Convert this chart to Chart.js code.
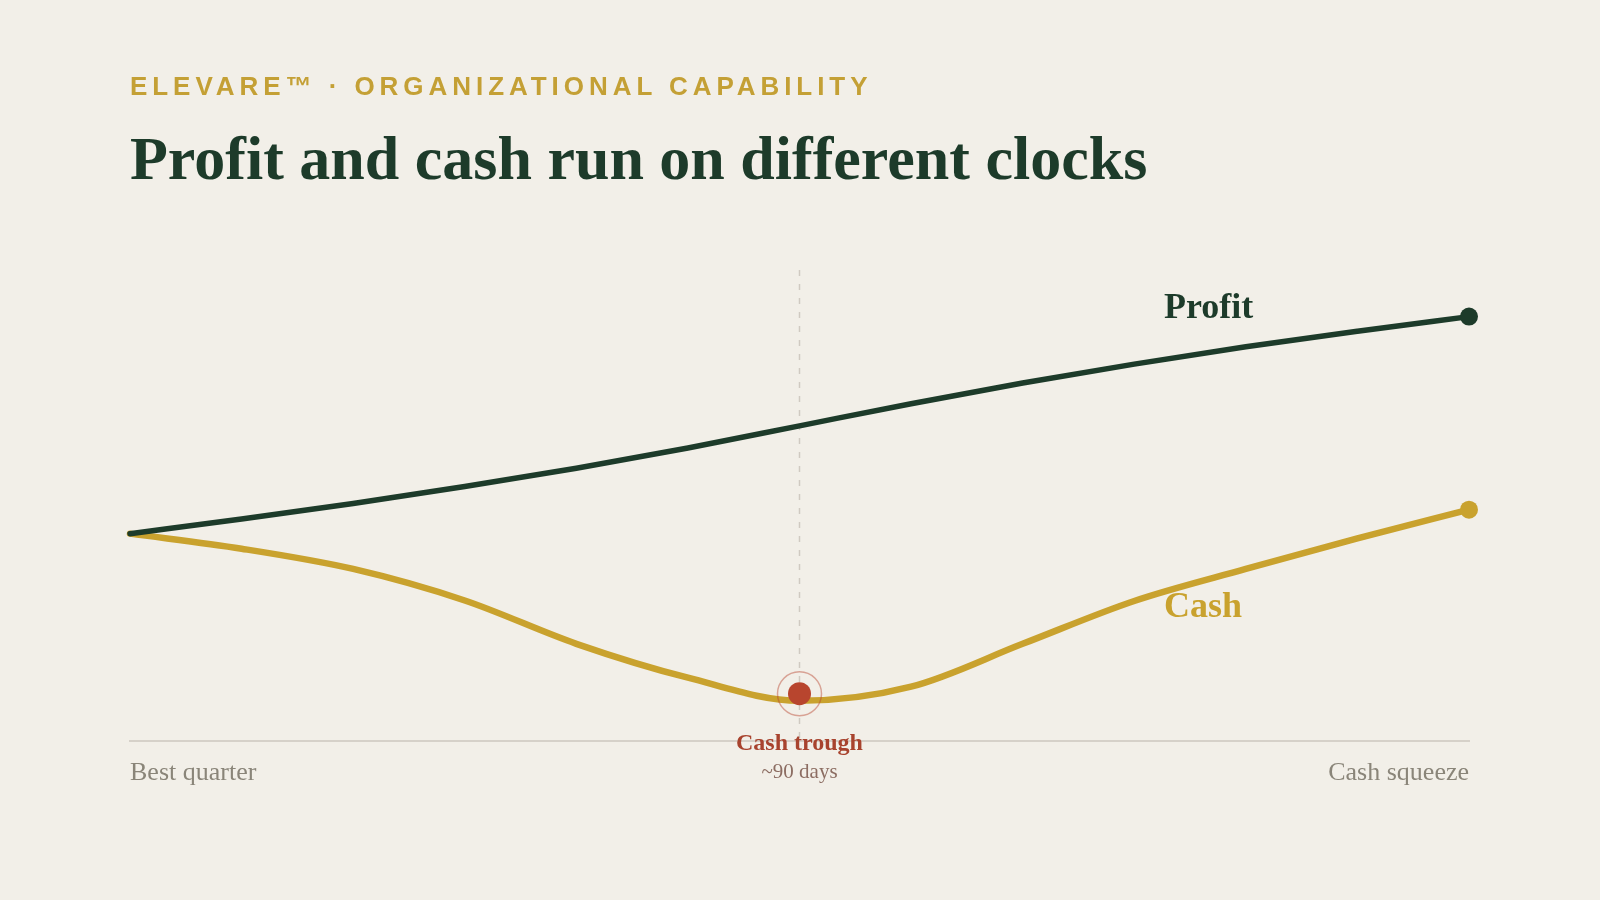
<!DOCTYPE html>
<html lang="en">
<head>
  <meta charset="UTF-8">
  <title>Profit and cash run on different clocks</title>
  <script src="https://cdn.jsdelivr.net/npm/chart.js"></script>
  <style>
    html, body { margin: 0; padding: 0; background: #F2EFE8; }
    .stage { position: relative; width: 1600px; height: 900px; overflow: hidden; }
    canvas { position: absolute; left: 0; top: 0; }
    .kicker {
      position: absolute; left: 130px; top: 71px; line-height: 1; white-space: nowrap;
      font: bold 26px 'Liberation Sans', Arial, sans-serif; letter-spacing: 4.95px; color: #C4A035;
    }
    .title {
      position: absolute; left: 130px; top: 123px; line-height: 1; white-space: nowrap;
      font: bold 62px 'Liberation Serif', 'Times New Roman', serif; color: #1D3B2A;
    }
  </style>
</head>
<body>
  <div class="stage">
    <canvas id="chart" width="1600" height="900"></canvas>
    <div class="kicker">ELEVARE™ · ORGANIZATIONAL CAPABILITY</div>
    <div class="title">Profit and cash run on different clocks</div>
  </div>
  <script>
    // days since the best quarter
    const days = [0, 15, 30, 45, 60, 75, 90, 105, 120, 135, 150, 165, 180]
    const profit = [44.0, 47.1, 50.4, 54.0, 57.9, 62.2, 66.9, 71.6, 76.0, 80.0, 83.7, 87.0, 90.1]
    const cash = [44.0, 40.8, 36.5, 29.8, 20.6, 13.4, 8.5, 11.5, 20.6, 29.7, 36.5, 43.0, 49.1]
    const troughDay = [90]
    const troughValue = [10]
    const axisLabels = ['Best quarter', 'Cash squeeze']
    const seriesNames = ['Profit', 'Cash']
    const troughText = ['Cash trough', '~90 days']

    const GREEN = '#1D3B2A'
    const GOLD = '#C9A22E'
    const RED = '#B8452E'
    const SERIF = "'Liberation Serif', 'Times New Roman', serif"

    const toPoints = (xs, ys) => xs.map((x, i) => ({ x, y: ys[i] }))
    const lastDot = r => ctx => ctx.dataIndex === ctx.dataset.data.length - 1 ? r : 0

    const annotations = {
      id: 'annotations',
      beforeDatasetsDraw(chart) {
        const { ctx, chartArea, scales: { x } } = chart
        const px = x.getPixelForValue(troughDay[0])
        ctx.save()
        ctx.strokeStyle = '#D0CAC1'
        ctx.lineWidth = 1.5
        ctx.setLineDash([6, 8])
        ctx.beginPath()
        ctx.moveTo(px, chartArea.top)
        ctx.lineTo(px, chartArea.bottom)
        ctx.stroke()
        ctx.restore()
      },
      afterDraw(chart) {
        const { ctx, chartArea, scales: { x, y } } = chart
        ctx.save()
        ctx.textBaseline = 'alphabetic'

        // series names
        ctx.textAlign = 'left'
        ctx.font = `bold 36px ${SERIF}`
        ctx.fillStyle = GREEN
        ctx.fillText(seriesNames[0], x.getPixelForValue(139), y.getPixelForValue(89.8))
        ctx.fillStyle = GOLD
        ctx.fillText(seriesNames[1], x.getPixelForValue(139), y.getPixelForValue(26.4))

        // trough label
        const px = x.getPixelForValue(troughDay[0])
        ctx.textAlign = 'center'
        ctx.font = `bold 24px ${SERIF}`
        ctx.fillStyle = '#A8432E'
        ctx.fillText(troughText[0], px, chartArea.bottom + 9)
        ctx.font = `21px ${SERIF}`
        ctx.fillStyle = '#8C6D62'
        ctx.fillText(troughText[1], px, chartArea.bottom + 37)
        ctx.restore()
      }
    }

    new Chart(document.getElementById('chart'), {
      type: 'line',
      data: {
        datasets: [
          {
            label: seriesNames[0],
            data: toPoints(days, profit),
            order: 1,
            borderColor: GREEN,
            backgroundColor: GREEN,
            borderWidth: 5.5,
            borderCapStyle: 'round',
            cubicInterpolationMode: 'monotone',
            pointRadius: lastDot(9),
            pointBorderWidth: 0,
            clip: false,
          },
          {
            label: seriesNames[1],
            data: toPoints(days, cash),
            order: 2,
            borderColor: GOLD,
            backgroundColor: GOLD,
            borderWidth: 6.5,
            borderCapStyle: 'round',
            cubicInterpolationMode: 'monotone',
            pointRadius: lastDot(9),
            pointBorderWidth: 0,
            clip: false,
          },
          {
            label: 'trough ring',
            data: toPoints(troughDay, troughValue),
            order: -1,
            showLine: false,
            pointRadius: 22,
            pointBackgroundColor: 'rgba(0,0,0,0)',
            pointBorderColor: 'rgba(184, 69, 46, 0.45)',
            pointBorderWidth: 1.5,
            clip: false,
          },
          {
            label: 'trough',
            data: toPoints(troughDay, troughValue),
            order: -2,
            showLine: false,
            pointRadius: 11.5,
            pointBackgroundColor: RED,
            pointBorderWidth: 0,
            clip: false,
          },
        ]
      },
      options: {
        responsive: false,
        animation: false,
        events: [],
        layout: { padding: { left: 130, right: 131, top: 270, bottom: 94 } },
        plugins: {
          legend: { display: false },
          tooltip: { enabled: false },
        },
        scales: {
          x: {
            type: 'linear',
            min: 0,
            max: 180,
            grid: { display: false, drawTicks: false },
            border: { display: true, color: '#D6D1C9', width: 2 },
            afterBuildTicks: axis => { axis.ticks = [{ value: 0 }, { value: 180 }] },
            ticks: {
              align: 'inner',
              padding: 17,
              maxRotation: 0,
              autoSkip: false,
              color: '#8A8579',
              font: { family: SERIF, size: 26 },
              callback: (value, index) => axisLabels[index],
            },
          },
          y: {
            display: false,
            min: 0,
            max: 100,
          }
        }
      },
      plugins: [annotations]
    })
  </script>
</body>
</html>
